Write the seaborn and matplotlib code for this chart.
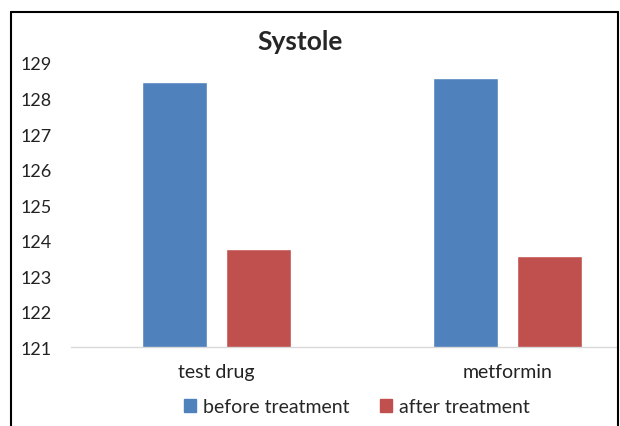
import pandas as pd
import numpy as np
import seaborn as sns
import matplotlib.pyplot as plt
from matplotlib.lines import Line2D

# Values
drugs = ['test drug', 'metformin']
before_treatment = [128.46, 128.58]
after_treatment = [123.76, 123.57]
series_names = ['before treatment', 'after treatment']
y_ticks = [121, 122, 123, 124, 125, 126, 127, 128, 129]

df = pd.DataFrame({
    'Drug': drugs * 2,
    'Systole': before_treatment + after_treatment,
    'Series': [series_names[0]] * 2 + [series_names[1]] * 2,
})

sns.set_style('white')
plt.rcParams['font.family'] = ['Lato', 'DejaVu Sans']

fig = plt.figure(figsize=(6.2, 4.27), dpi=100)
ax = fig.add_axes([71 / 620, 1 - 348.3 / 427, (617 - 71) / 620, (348.3 - 64) / 427])

sns.barplot(data=df, x='Drug', y='Systole', hue='Series', order=drugs,
            hue_order=series_names, palette=['#4F81BD', '#C0504D'],
            width=0.573, gap=0.22, saturation=1, ax=ax)

ax.set_ylim(121, 129)
# plot area is cut by the picture's right edge
ax.set_xlim(-0.5, 1.376)
ax.set_yticks(y_ticks)
ax.set_xlabel('')
ax.set_ylabel('')
ax.tick_params(axis='y', length=0, pad=14, labelsize=13, labelcolor='#222222')
ax.tick_params(axis='x', length=0, pad=11, labelsize=14, labelcolor='#222222')
for side in ['top', 'right', 'left']:
    ax.spines[side].set_visible(False)
ax.spines['bottom'].set_color('#D9D9D9')
ax.spines['bottom'].set_linewidth(1)
ax.patch.set_alpha(0)

fig.text(300 / 620, 1 - 42 / 427, 'Systole', ha='center', va='center',
         fontsize=19, fontweight='bold')

# Legend below the categories
ax.get_legend().remove()
handles = [plt.Rectangle((0, 0), 1, 1, color=c) for c in ['#4F81BD', '#C0504D']]
fig.legend(handles, series_names, loc='center', ncol=2,
           bbox_to_anchor=(357 / 620, 1 - 408 / 427), frameon=False,
           fontsize=14, handlelength=0.6, handleheight=0.6,
           handletextpad=0.35, columnspacing=1.6)

# Outer chart frame (bottom edge falls outside the picture)
x0, x1, y0 = 10.5 / 620, 617.5 / 620, 1 - 12.5 / 427
for xs, ys in [([x0, x1], [y0, y0]), ([x0, x0], [y0, -0.1]), ([x1, x1], [y0, -0.1])]:
    fig.add_artist(Line2D(xs, ys, transform=fig.transFigure, color='black', lw=1.5))

fig.savefig('out.png', dpi=100)
